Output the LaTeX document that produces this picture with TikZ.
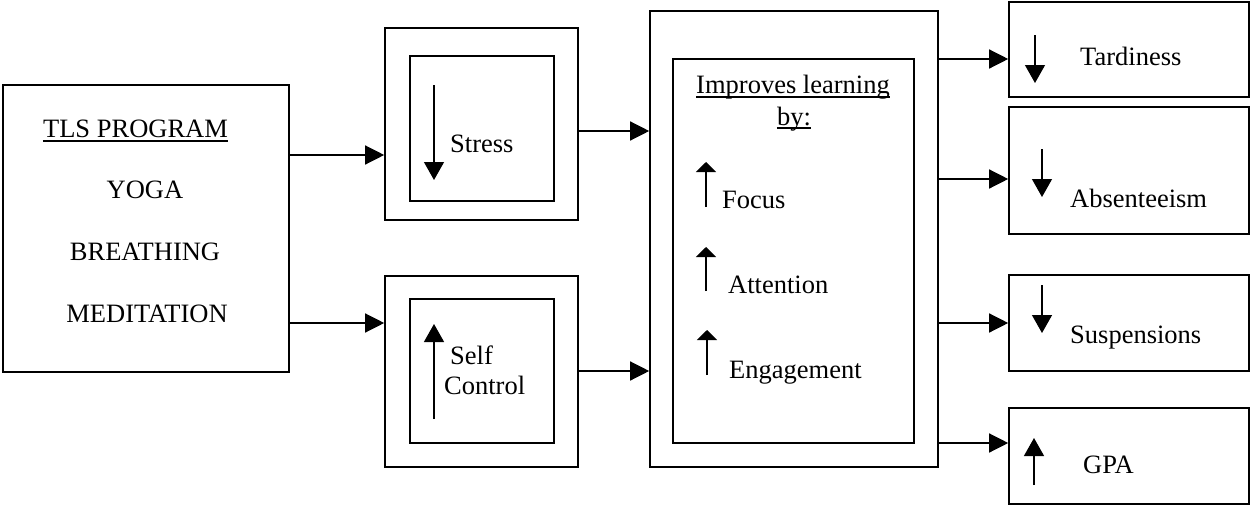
\documentclass[tikz,border=0pt]{standalone}
\usepackage{fontspec}
\setmainfont{Liberation Serif}
\usepackage{tikz}
\usetikzlibrary{arrows.meta, positioning}
\tikzset{
  box/.style={draw, line width=1.6pt, inner sep=0pt},
  conn/.style={line width=1.3pt, -{Triangle[length=19pt,width=19pt]}},
  bigarrow/.style={line width=1.3pt, -{Triangle[length=18pt,width=20pt]}},
  flatarrow/.style={line width=1.3pt, -{Triangle[length=10pt,width=20pt]}},
  uline/.style={line width=1.3pt},
  lbl/.style={font=\fontsize{26.5pt}{30pt}\selectfont, inner sep=0pt}
}
\begin{document}
\begin{tikzpicture}[x=1pt, y=-1pt]
\useasboundingbox (0,0) rectangle (1251,506);
\node[box, minimum width=286pt, minimum height=287pt] (prog) at (146,228.5) {};
\node[lbl, anchor=base] (progtitle) at (135.5,137) {TLS PROGRAM};
\draw[uline] ([yshift=-4pt]progtitle.base west) -- ([yshift=-4pt]progtitle.base east);
\node[lbl, anchor=base] (yoga) at (145,198) {YOGA};
\node[lbl, anchor=base] (breath) at (145,260) {BREATHING};
\node[lbl, anchor=base] (medit) at (147,322) {MEDITATION};
\node[box, minimum width=193pt, minimum height=192pt] (stress) at (481.5,124) {};
\node[box, minimum width=144pt, minimum height=145pt] (stressin) at (482,128.5) {};
\draw[bigarrow] (434,85) -- (434,180);
\node[lbl, anchor=base west] (stresstxt) at (450,152) {Stress};
\node[box, minimum width=193pt, minimum height=191pt] (self) at (481.5,371.5) {};
\node[box, minimum width=144pt, minimum height=144pt] (selfin) at (482,371) {};
\draw[bigarrow] (434,419) -- (434,324);
\node[lbl, anchor=base west] (selftxt) at (450,364) {Self};
\node[lbl, anchor=base west] (controltxt) at (444,394) {Control};
\node[box, minimum width=288pt, minimum height=456pt] (learn) at (794,239) {};
\node[box, minimum width=241pt, minimum height=384pt] (learnin) at (793.5,251) {};
\node[lbl, anchor=base] (improves) at (793,93) {Improves learning};
\draw[uline] ([yshift=-4pt]improves.base west) -- ([yshift=-4pt]improves.base east);
\node[lbl, anchor=base] (by) at (794,125) {by:};
\draw[uline] ([yshift=-3pt]by.base west) -- ([yshift=-3pt]by.base east);
\draw[flatarrow] (706,207) -- (706,162);
\node[lbl, anchor=base west] (focus) at (722,208) {Focus};
\draw[flatarrow] (706,291) -- (706,247);
\node[lbl, anchor=base west] (attention) at (728,293) {Attention};
\draw[flatarrow] (707,375) -- (707,330);
\node[lbl, anchor=base west] (engage) at (729,378) {Engagement};
\node[box, minimum width=240pt, minimum height=95pt] (tard) at (1129,49.5) {};
\draw[bigarrow] (1035,35) -- (1035,83);
\node[lbl, anchor=base west] (tardtxt) at (1080,65) {Tardiness};
\node[box, minimum width=240pt, minimum height=127pt] (absent) at (1129,170.5) {};
\draw[bigarrow] (1042,149) -- (1042,197);
\node[lbl, anchor=base west] (absenttxt) at (1070,207) {Absenteeism};
\node[box, minimum width=240pt, minimum height=96pt] (susp) at (1129,323) {};
\draw[bigarrow] (1042,285) -- (1042,333);
\node[lbl, anchor=base west] (susptxt) at (1070,343) {Suspensions};
\node[box, minimum width=240pt, minimum height=96pt] (gpa) at (1129,456) {};
\draw[bigarrow] (1034,485) -- (1034,438);
\node[lbl, anchor=base west] (gpatxt) at (1083,473) {GPA};
\draw[conn] (prog.east |- 0,155) -- (stress.west |- 0,155);
\draw[conn] (prog.east |- 0,323) -- (self.west |- 0,323);
\draw[conn] (stress.east |- 0,131) -- (learn.west |- 0,131);
\draw[conn] (self.east |- 0,371) -- (learn.west |- 0,371);
\draw[conn] (learn.east |- 0,59) -- (tard.west |- 0,59);
\draw[conn] (learn.east |- 0,179) -- (absent.west |- 0,179);
\draw[conn] (learn.east |- 0,323) -- (susp.west |- 0,323);
\draw[conn] (learn.east |- 0,443) -- (gpa.west |- 0,443);
\end{tikzpicture}
\end{document}
